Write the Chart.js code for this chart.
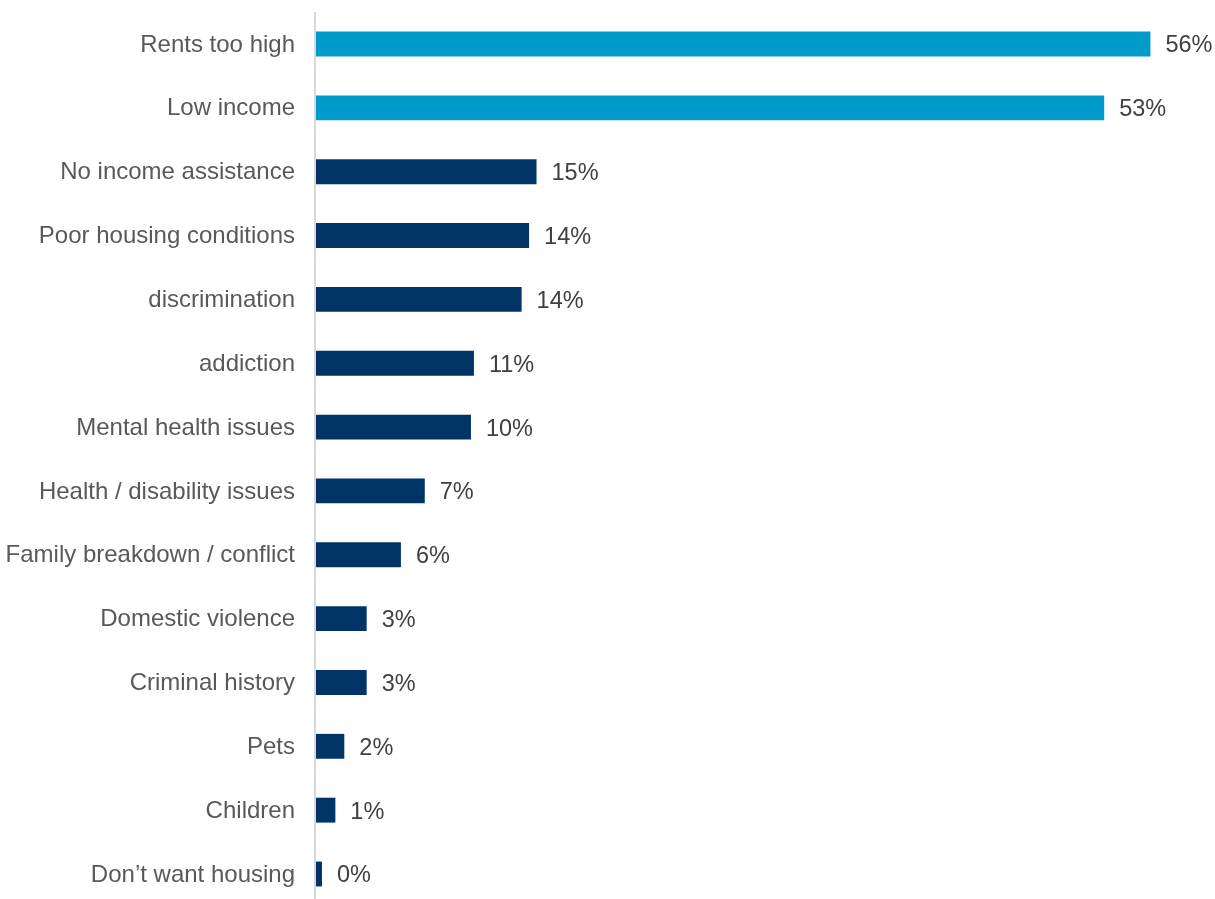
<!doctype html>
<html>
<head>
    <title>Barriers to housing</title>
    <script src="https://cdn.jsdelivr.net/npm/chart.js@4/dist/chart.umd.min.js"></script>
    <style>
    body{
        margin: 0;
        background: #fff;
        font-family: "Liberation Sans", Arial, Helvetica, sans-serif;
    }
    #holder{
        width: 1215px;
        height: 899px;
    }
    </style>
</head>
<body>
    <div id="holder">
        <canvas id="chart-area"></canvas>
    </div>
    <script>
    var reasons = ['Rents too high', 'Low income', 'No income assistance', 'Poor housing conditions',
        'discrimination', 'addiction', 'Mental health issues', 'Health / disability issues',
        'Family breakdown / conflict', 'Domestic violence', 'Criminal history', 'Pets',
        'Children', 'Don\u2019t want housing'];
    var percents = [56.0, 52.9, 14.8, 14.3, 13.8, 10.6, 10.4, 7.3, 5.7, 3.4, 3.4, 1.9, 1.3, 0.4];
    var topTwo = 2;

    var lightBlue = '#009BCB';
    var navy = '#003466';
    var barColors = percents.map(function (v, i) {
        return i < topTwo ? lightBlue : navy;
    });

    // percent labels at the end of every bar
    var valueLabels = {
        id: 'valueLabels',
        afterDatasetsDraw: function (chart) {
            var ctx = chart.ctx;
            var meta = chart.getDatasetMeta(0);
            ctx.save();
            ctx.font = '23.5px "Liberation Sans", Arial, sans-serif';
            ctx.fillStyle = '#404040';
            ctx.textAlign = 'left';
            ctx.textBaseline = 'middle';
            meta.data.forEach(function (bar, i) {
                ctx.fillText(Math.round(percents[i]) + '%', bar.x + 15, bar.y + 2);
            });
            ctx.restore();
        }
    };

    // thin grey baseline running the full height
    var baseLine = {
        id: 'baseLine',
        beforeDatasetsDraw: function (chart) {
            var ctx = chart.ctx;
            var x = chart.scales.x.getPixelForValue(0) - 1;
            ctx.save();
            ctx.strokeStyle = '#D9D9D9';
            ctx.lineWidth = 2;
            ctx.beginPath();
            ctx.moveTo(x, chart.chartArea.top - 32);
            ctx.lineTo(x, chart.height);
            ctx.stroke();
            ctx.restore();
        }
    };

    var config = {
        type: 'bar',
        data: {
            labels: reasons,
            datasets: [{
                data: percents,
                backgroundColor: barColors,
                barPercentage: 0.39,
                categoryPercentage: 1,
                clip: false
            }]
        },
        options: {
            indexAxis: 'y',
            responsive: true,
            maintainAspectRatio: false,
            animation: false,
            layout: {
                padding: {top: 44, bottom: 25, right: 5, left: 0}
            },
            plugins: {
                legend: {display: false},
                tooltip: {enabled: false}
            },
            scales: {
                x: {
                    display: false,
                    min: 0,
                    max: 60
                },
                y: {
                    offset: false,
                    grid: {display: false},
                    border: {display: false},
                    ticks: {
                        padding: 13,
                        labelOffset: 1,
                        color: '#595959',
                        font: {family: '"Liberation Sans", Arial, sans-serif', size: 24}
                    },
                    afterFit: function (scale) {
                        scale.width = 316;
                        scale.paddingTop = 0;
                        scale.paddingBottom = 0;
                    }
                }
            }
        },
        plugins: [baseLine, valueLabels]
    };

    window.onload = function () {
        var ctx = document.getElementById('chart-area').getContext('2d');
        window.myBar = new Chart(ctx, config);
    };
    </script>
</body>
</html>
